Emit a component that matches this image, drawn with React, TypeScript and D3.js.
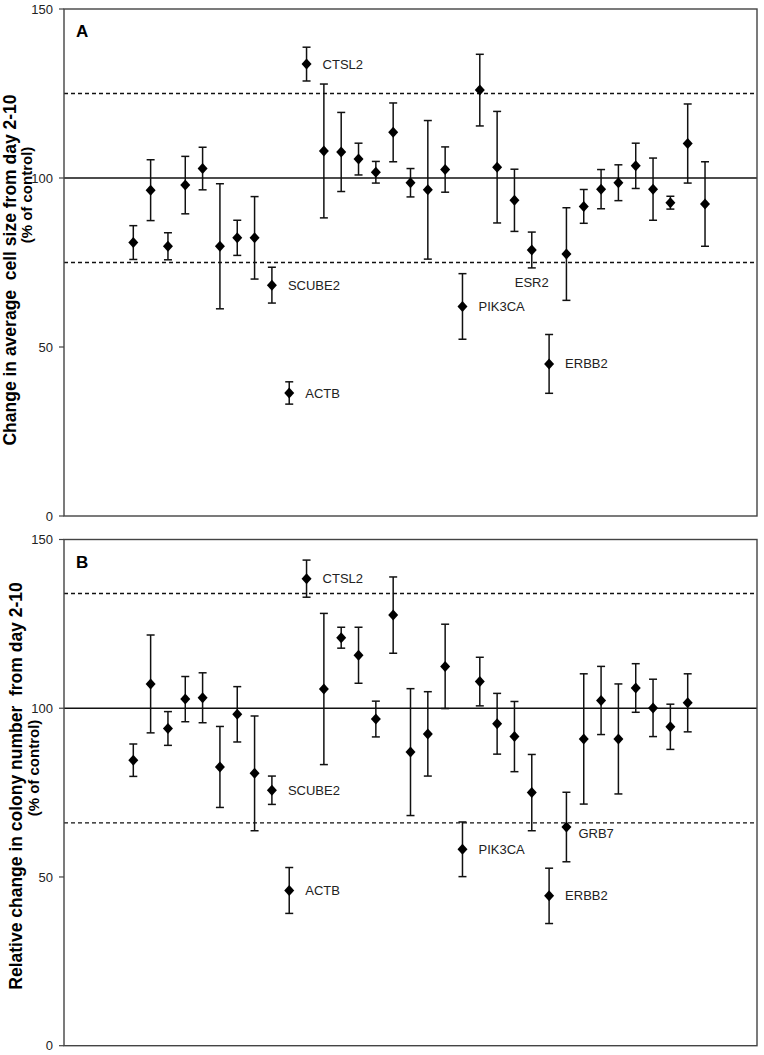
import React from "react";
import * as d3 from "d3";

// ---- data ----
const positions = d3.range(0, 34); // gene slots along x

const cellSizeMean = [80.9, 96.4, 79.8, 97.9, 102.8, 79.8, 82.3, 82.3, 68.3, 36.4, 133.7, 108.0, 107.7, 105.6, 101.7, 113.5, 98.6, 96.5, 102.5, 62.0, 126.0, 103.2, 93.4, 78.7, 45.0, 77.5, 91.6, 96.7, 98.6, 103.6, 96.7, 92.7, 110.2, 92.3];
const cellSizeErr = [5.0, 9.0, 4.0, 8.5, 6.3, 18.5, 5.2, 12.2, 5.3, 3.3, 5.0, 19.8, 11.7, 4.7, 3.2, 8.7, 4.2, 20.5, 6.7, 9.7, 10.6, 16.5, 9.2, 5.3, 8.7, 13.7, 5.0, 5.8, 5.3, 6.7, 9.2, 1.9, 11.7, 12.5];

const colonyMean = [84.6, 107.2, 94.0, 102.7, 103.1, 82.6, 98.2, 80.7, 75.7, 46.0, 138.4, 105.7, 120.9, 115.7, 96.8, 127.6, 87.0, 92.4, 112.4, 58.2, 107.9, 95.4, 91.6, 75.0, 44.4, 64.8, 90.9, 102.3, 90.9, 106.0, 100.1, 94.5, 101.6];
const colonyErr = [4.8, 14.5, 5.0, 6.7, 7.4, 12.0, 8.2, 17.0, 4.2, 6.8, 5.5, 22.4, 3.1, 8.3, 5.3, 11.3, 18.8, 12.5, 12.5, 8.1, 7.2, 9.0, 10.4, 11.3, 8.2, 10.3, 19.3, 10.1, 16.3, 7.2, 8.5, 6.7, 8.6];

const cellSizeLabels = [
  { i: 10, text: "CTSL2" },
  { i: 8, text: "SCUBE2" },
  { i: 9, text: "ACTB" },
  { i: 19, text: "PIK3CA" },
  { i: 24, text: "ERBB2" },
];
const cellSizeBelowLabels = [{ i: 23, text: "ESR2" }];

const colonyLabels = [
  { i: 10, text: "CTSL2" },
  { i: 8, text: "SCUBE2" },
  { i: 9, text: "ACTB" },
  { i: 19, text: "PIK3CA" },
  { i: 24, text: "ERBB2" },
  { i: 25, text: "GRB7" },
];

const yTicks = [0, 50, 100, 150];
const cellSizeThresholds = [75, 125];
const colonyThresholds = [66, 134];

const FONT = "'Liberation Sans', Arial, Helvetica, sans-serif";

type Lbl = { i: number; text: string };

function Panel(props: {
  top: number;
  bottom: number;
  letter: string;
  mean: number[];
  err: number[];
  thresholds: number[];
  labels: Lbl[];
  below?: Lbl[];
  title1: string;
  title1X: number;
  title1Y: number;
  title2X: number;
  title2Y: number;
  labelDy?: Record<number, number>;
  labelDx?: Record<number, number>;
}) {
  const left = 64;
  const right = 757;
  const x = d3.scaleLinear().domain([-4, 36]).range([left, right]);
  const y = d3.scaleLinear().domain([0, 150]).range([props.bottom, props.top]);
  const hw = 5, hh = 5.5, cap = 4;
  const diamond = (cx: number, cy: number) =>
    `M${cx},${cy - hh}L${cx + hw},${cy}L${cx},${cy + hh}L${cx - hw},${cy}Z`;
  return (
    <g>
      {/* reference lines */}
      <line x1={left} x2={right} y1={y(100)} y2={y(100)} stroke="#111" strokeWidth={1.3} />
      {props.thresholds.map((t) => (
        <line key={t} x1={left} x2={right} y1={y(t)} y2={y(t)} stroke="#111" strokeWidth={1.3} strokeDasharray="4,3" />
      ))}
      {/* frame */}
      <rect x={left} y={props.top} width={right - left} height={props.bottom - props.top} fill="none" stroke="#444" strokeWidth={1.4} />
      {/* y ticks */}
      {yTicks.map((t) => (
        <g key={t}>
          <line x1={left - 5} x2={left} y1={y(t)} y2={y(t)} stroke="#444" strokeWidth={1.2} />
          <text x={left - 11} y={y(t)} dy="0.35em" textAnchor="end" fontSize={13} fontFamily={FONT} fill="#222">{t}</text>
        </g>
      ))}
      {/* error bars and points */}
      {props.mean.map((m, k) => {
        const cx = x(positions[k]);
        const e = props.err[k];
        return (
          <g key={k}>
            <line x1={cx} x2={cx} y1={y(m - e)} y2={y(m + e)} stroke="#111" strokeWidth={1.5} />
            <line x1={cx - cap} x2={cx + cap} y1={y(m + e)} y2={y(m + e)} stroke="#111" strokeWidth={1.5} />
            <line x1={cx - cap} x2={cx + cap} y1={y(m - e)} y2={y(m - e)} stroke="#111" strokeWidth={1.5} />
            <path d={diamond(cx, y(m))} fill="#000" />
          </g>
        );
      })}
      {/* gene labels */}
      {props.labels.map((l) => (
        <text key={l.text} x={x(positions[l.i]) + (props.labelDx?.[l.i] ?? 16)} y={y(props.mean[l.i]) + (props.labelDy?.[l.i] ?? 0)} dy="0.35em" fontSize={13} fontFamily={FONT} fill="#222">{l.text}</text>
      ))}
      {(props.below || []).map((l) => (
        <text key={l.text} x={x(positions[l.i])} y={y(props.mean[l.i] - props.err[l.i]) + 15} dy="0.35em" textAnchor="middle" fontSize={13} fontFamily={FONT} fill="#222">{l.text}</text>
      ))}
      {/* panel letter */}
      <text x={left + 12} y={props.top + 28} fontSize={17} fontWeight="bold" fontFamily={FONT} fill="#000">{props.letter}</text>
      {/* y-axis title */}
      <text transform={`translate(${props.title1X},${props.title1Y}) rotate(-90)`} textAnchor="middle" fontSize={17.5} fontWeight="bold" fontFamily={FONT} fill="#000" style={{ whiteSpace: "pre" }}>{props.title1}</text>
      <text transform={`translate(${props.title2X},${props.title2Y}) rotate(-90)`} textAnchor="middle" fontSize={15} fontWeight="bold" fontFamily={FONT} fill="#000">(% of control)</text>
    </g>
  );
}

export default function App() {
  return (
    <svg width={764} height={1055} style={{ position: "absolute", left: 0, top: 0, background: "#fff" }}>
      <rect x={0} y={0} width={764} height={1055} fill="#fff" />
      <Panel
        top={9}
        bottom={516}
        letter="A"
        mean={cellSizeMean}
        err={cellSizeErr}
        thresholds={cellSizeThresholds}
        labels={cellSizeLabels}
        below={cellSizeBelowLabels}
        title1={"Change in average  cell size from day 2-10"}
        title1X={16}
        title1Y={270}
        title2X={32}
        title2Y={195}
      />
      <Panel
        top={539.5}
        bottom={1045.7}
        letter="B"
        mean={colonyMean}
        err={colonyErr}
        thresholds={colonyThresholds}
        labels={colonyLabels}
        title1={"Relative change in colony number  from day 2-10"}
        title1X={22}
        title1Y={786}
        title2X={39}
        title2Y={768}
        labelDx={{ 25: 12 }}
        labelDy={{ 25: 6 }}
      />
    </svg>
  );
}
